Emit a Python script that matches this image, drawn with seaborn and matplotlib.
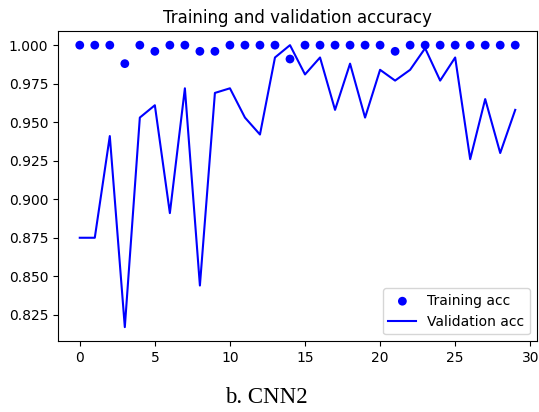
import numpy as np
import pandas as pd
import seaborn as sns
import matplotlib.pyplot as plt

# Epoch accuracy values
epochs = list(range(30))
train_acc = [1.000, 1.000, 1.000, 0.988, 1.000, 0.996, 1.000, 1.000, 0.996, 0.996,
             1.000, 1.000, 1.000, 1.000, 0.991, 1.000, 1.000, 1.000, 1.000, 1.000,
             1.000, 0.996, 1.000, 1.000, 1.000, 1.000, 1.000, 1.000, 1.000, 1.000]
val_acc = [0.875, 0.875, 0.941, 0.817, 0.953, 0.961, 0.891, 0.972, 0.844, 0.969,
           0.972, 0.953, 0.942, 0.992, 1.000, 0.981, 0.992, 0.958, 0.988, 0.953,
           0.984, 0.977, 0.984, 0.998, 0.977, 0.992, 0.926, 0.965, 0.930, 0.958]

df = pd.DataFrame({'epoch': epochs, 'train': train_acc, 'val': val_acc})

fig = plt.figure(figsize=(5.39, 4.12), dpi=100)
ax = fig.add_axes([0.1076, 0.1716, 0.8887, 0.7532])

sns.scatterplot(data=df, x='epoch', y='train', ax=ax, color='blue', s=40,
                edgecolor='none', label='Training acc', zorder=3)
sns.lineplot(data=df, x='epoch', y='val', ax=ax, color='blue', linewidth=1.5,
             label='Validation acc')

ax.set_title('Training and validation accuracy', fontsize=12)
ax.set_xlabel('')
ax.set_ylabel('')
ax.set_xticks([0, 5, 10, 15, 20, 25, 30])
ax.set_yticks([0.825, 0.850, 0.875, 0.900, 0.925, 0.950, 0.975, 1.000])
ax.yaxis.set_major_formatter(plt.FormatStrFormatter('%.3f'))
ax.set_xlim(-1.45, 30.45)
ax.set_ylim(0.8078, 1.0092)
ax.legend(loc='lower right', fontsize=10)

fig.text(0.495, 0.022, 'b. CNN2', ha='center', va='baseline',
         fontsize=16.5, family='Liberation Serif')

fig.savefig('out.png', dpi=100)
